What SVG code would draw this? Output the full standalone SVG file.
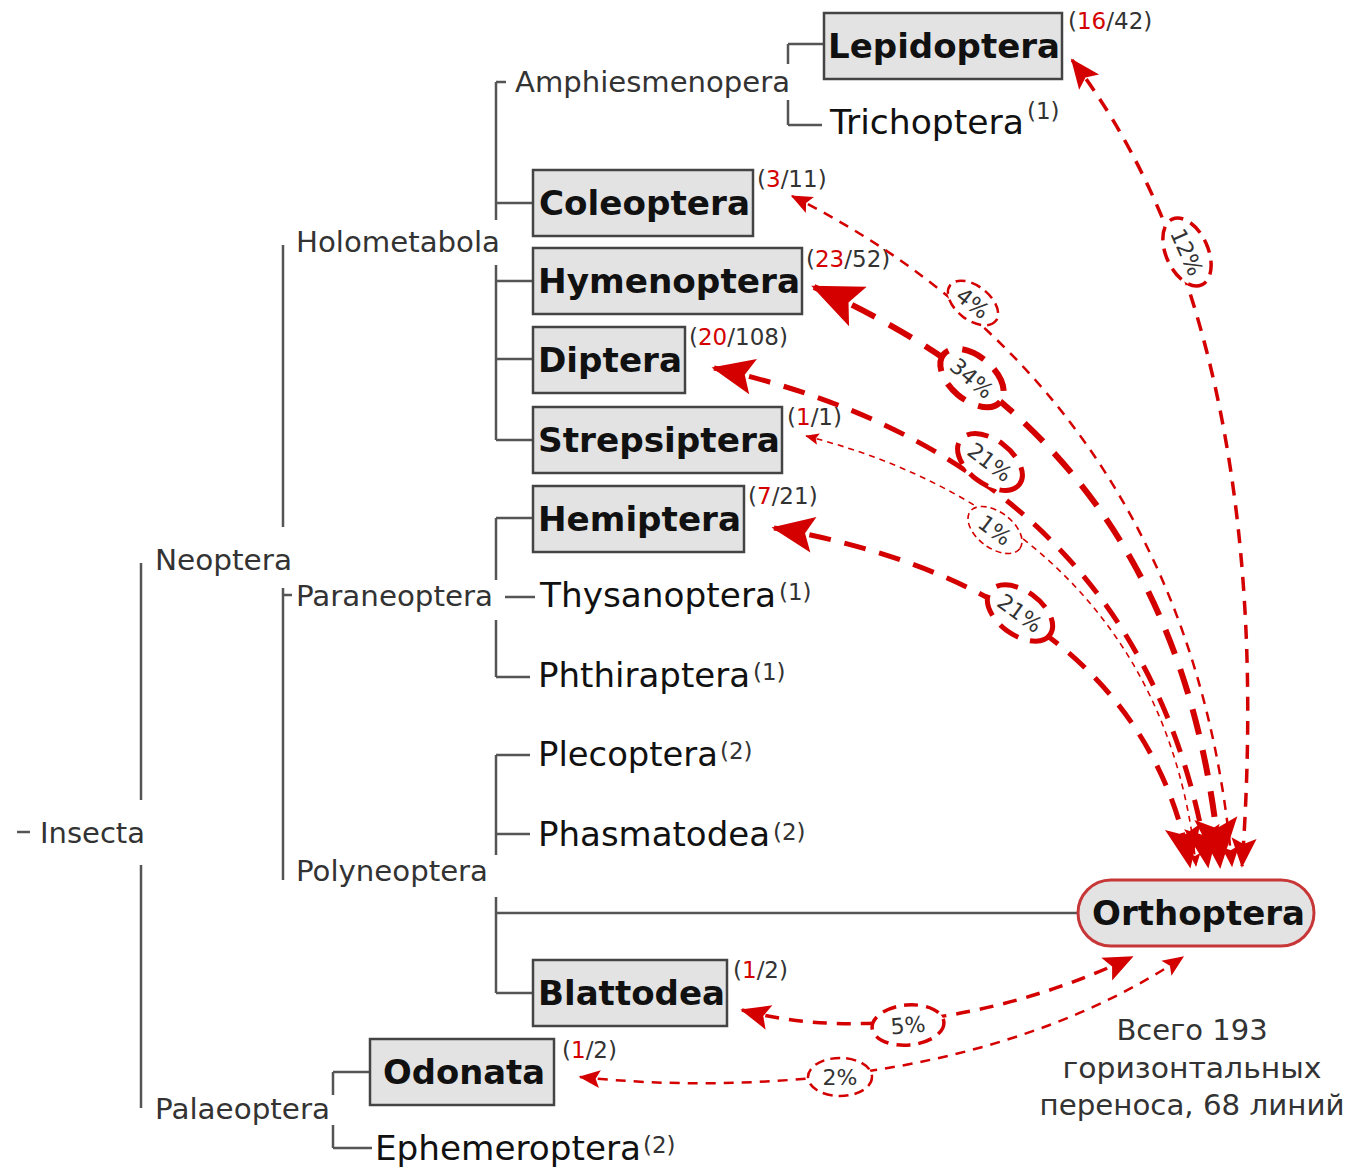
<svg xmlns="http://www.w3.org/2000/svg" width="1350" height="1171" viewBox="0 0 1350 1171">
<defs>
<marker id="ah" viewBox="-10 -5 12 10" refX="0" refY="0" markerWidth="12" markerHeight="10" markerUnits="strokeWidth" orient="auto-start-reverse" overflow="visible">
<path d="M0.5,0 L-8,-3.6 L-6.3,0 L-8,3.6 Z" fill="#d40000"/>
</marker>
<style>
.tree{stroke:#555;stroke-width:2.5;fill:none}
.box{fill:#e3e3e3;stroke:#444;stroke-width:2.5}
.bl{font-family:"DejaVu Sans",sans-serif;font-weight:bold;font-size:34px;fill:#111}
.ol{font-family:"DejaVu Sans",sans-serif;font-size:34px;fill:#111}
.cl{font-family:"DejaVu Sans",sans-serif;font-size:28px;fill:#333}
.sup{font-family:"DejaVu Sans",sans-serif;font-size:23px;fill:#333}
.r{fill:#d40000}
.con{fill:none;stroke:#d40000;marker-start:url(#ah);marker-end:url(#ah)}
.lab{fill:#fff;stroke:#d40000}
.pt{font-family:"DejaVu Sans",sans-serif;font-size:22px;fill:#333;text-anchor:middle}
.ru{font-family:"DejaVu Sans",sans-serif;font-size:29px;fill:#333;text-anchor:middle}
</style>
</defs>
<rect width="1350" height="1171" fill="#fff"/>

<g id="tree-lines">
<path class="tree" d="M17,832 H30"/>
<path class="tree" d="M141,563 V800 M141,865 V1108"/>
<path class="tree" d="M283,245 V527 M283,588 V880 M283,595 H292"/>
<path class="tree" d="M496,82 V220 M496,265 V440 M496,82 H506 M496,203 H533 M496,281 H533 M496,359 H533 M496,440 H533"/>
<path class="tree" d="M788,44 V64 M788,100 V125 M788,44 H824 M788,125 H822"/>
<path class="tree" d="M496,518 V580 M496,620 V677 M496,518 H533 M505,597 H535 M496,677 H530"/>
<path class="tree" d="M496,755 V855 M496,897 V993 M496,755 H530 M496,834 H530 M496,913 H1078 M496,993 H533"/>
<path class="tree" d="M333,1072 V1095 M333,1125 V1148 M333,1072 H370 M333,1148 H372"/>
</g>

<g id="clades">
<text class="cl" x="40" y="843" textLength="105" lengthAdjust="spacingAndGlyphs">Insecta</text>
<text class="cl" x="155" y="570" textLength="137" lengthAdjust="spacingAndGlyphs">Neoptera</text>
<text class="cl" x="155" y="1119" textLength="175" lengthAdjust="spacingAndGlyphs">Palaeoptera</text>
<text class="cl" x="296" y="252" textLength="204" lengthAdjust="spacingAndGlyphs">Holometabola</text>
<text class="cl" x="296" y="606" textLength="197" lengthAdjust="spacingAndGlyphs">Paraneoptera</text>
<text class="cl" x="296" y="881" textLength="192" lengthAdjust="spacingAndGlyphs">Polyneoptera</text>
<text class="cl" x="515" y="92" textLength="275" lengthAdjust="spacingAndGlyphs">Amphiesmenopera</text>
</g>

<g id="lepidoptera">
<rect class="box" x="824" y="13" width="238" height="66"/>
<text class="bl" x="828" y="58" textLength="232" lengthAdjust="spacingAndGlyphs">Lepidoptera</text>
<text class="sup" x="1068" y="29">(<tspan class="r">16</tspan>/42)</text>
</g>
<g id="trichoptera">
<text class="ol" x="830" y="134" textLength="194" lengthAdjust="spacingAndGlyphs">Trichoptera</text>
<text class="sup" x="1027" y="119">(1)</text>
</g>
<g id="coleoptera">
<rect class="box" x="533" y="170" width="220" height="66"/>
<text class="bl" x="539" y="215" textLength="211" lengthAdjust="spacingAndGlyphs">Coleoptera</text>
<text class="sup" x="757" y="187">(<tspan class="r">3</tspan>/11)</text>
</g>
<g id="hymenoptera">
<rect class="box" x="533" y="248" width="269" height="66"/>
<text class="bl" x="538" y="293" textLength="262" lengthAdjust="spacingAndGlyphs">Hymenoptera</text>
<text class="sup" x="806" y="267">(<tspan class="r">23</tspan>/52)</text>
</g>
<g id="diptera">
<rect class="box" x="533" y="327" width="152" height="66"/>
<text class="bl" x="538" y="372" textLength="144" lengthAdjust="spacingAndGlyphs">Diptera</text>
<text class="sup" x="689" y="345">(<tspan class="r">20</tspan>/108)</text>
</g>
<g id="strepsiptera">
<rect class="box" x="533" y="407" width="249" height="66"/>
<text class="bl" x="538" y="452" textLength="242" lengthAdjust="spacingAndGlyphs">Strepsiptera</text>
<text class="sup" x="787" y="425">(<tspan class="r">1</tspan>/1)</text>
</g>
<g id="hemiptera">
<rect class="box" x="533" y="486" width="211" height="66"/>
<text class="bl" x="538" y="531" textLength="203" lengthAdjust="spacingAndGlyphs">Hemiptera</text>
<text class="sup" x="748" y="504">(<tspan class="r">7</tspan>/21)</text>
</g>
<g id="thysanoptera">
<text class="ol" x="540" y="607" textLength="236" lengthAdjust="spacingAndGlyphs">Thysanoptera</text>
<text class="sup" x="779" y="600">(1)</text>
</g>
<g id="phthiraptera">
<text class="ol" x="538" y="687" textLength="212" lengthAdjust="spacingAndGlyphs">Phthiraptera</text>
<text class="sup" x="753" y="680">(1)</text>
</g>
<g id="plecoptera">
<text class="ol" x="538" y="766" textLength="180" lengthAdjust="spacingAndGlyphs">Plecoptera</text>
<text class="sup" x="720" y="759">(2)</text>
</g>
<g id="phasmatodea">
<text class="ol" x="538" y="846" textLength="232" lengthAdjust="spacingAndGlyphs">Phasmatodea</text>
<text class="sup" x="773" y="840">(2)</text>
</g>
<g id="orthoptera">
<rect x="1078" y="880" width="236" height="66" rx="33" ry="33" fill="#e3e3e3" stroke="#c83737" stroke-width="3"/>
<text class="bl" x="1092" y="925" textLength="213" lengthAdjust="spacingAndGlyphs">Orthoptera</text>
</g>
<g id="blattodea">
<rect class="box" x="533" y="960" width="194" height="66"/>
<text class="bl" x="538" y="1005" textLength="187" lengthAdjust="spacingAndGlyphs">Blattodea</text>
<text class="sup" x="733" y="978">(<tspan class="r">1</tspan>/2)</text>
</g>
<g id="odonata">
<rect class="box" x="370" y="1039" width="184" height="66"/>
<text class="bl" x="383" y="1084" textLength="162" lengthAdjust="spacingAndGlyphs">Odonata</text>
<text class="sup" x="562" y="1058">(<tspan class="r">1</tspan>/2)</text>
</g>
<g id="ephemeroptera">
<text class="ol" x="375" y="1160" textLength="266" lengthAdjust="spacingAndGlyphs">Ephemeroptera</text>
<text class="sup" x="643" y="1153">(2)</text>
</g>

<g id="connectors">
<path class="con" stroke-width="3.5" stroke-dasharray="14 10" d="M1072,60 C1180,200 1272,450 1242,866"/>
<path class="con" stroke-width="2.5" stroke-dasharray="10 8" d="M792,196 C1000,300 1200,500 1232,866"/>
<path class="con" stroke-width="6" stroke-dasharray="26 16" d="M814,287 C1000,370 1190,520 1220,866"/>
<path class="con" stroke-width="5" stroke-dasharray="22 14" d="M714,368 C950,420 1160,560 1208,866"/>
<path class="con" stroke-width="1.6" stroke-dasharray="6 5" d="M806,436 C980,480 1170,600 1196,866"/>
<path class="con" stroke-width="5" stroke-dasharray="22 14" d="M774,528 C960,560 1150,650 1190,866"/>
<path class="con" stroke-width="3.5" stroke-dasharray="14 10" d="M742,1010 C850,1040 1000,1020 1132,957"/>
<path class="con" stroke-width="2.5" stroke-dasharray="10 8" d="M580,1077 C750,1095 1000,1080 1183,957"/>
</g>

<g id="labels">
<g transform="translate(1187,252) rotate(66)"><ellipse class="lab" rx="36" ry="21" stroke-width="3.5" stroke-dasharray="14 8"/><text class="pt" y="8">12%</text></g>
<g transform="translate(973,303) rotate(38)"><ellipse class="lab" rx="29" ry="17" stroke-width="2.5" stroke-dasharray="10 6"/><text class="pt" y="8">4%</text></g>
<g transform="translate(972,378) rotate(40)"><ellipse class="lab" rx="37" ry="22" stroke-width="6" stroke-dasharray="24 14"/><text class="pt" y="8">34%</text></g>
<g transform="translate(990,462) rotate(37)"><ellipse class="lab" rx="37" ry="22" stroke-width="5" stroke-dasharray="22 12"/><text class="pt" y="8">21%</text></g>
<g transform="translate(995,530) rotate(37)"><ellipse class="lab" rx="31" ry="18" stroke-width="1.6" stroke-dasharray="6 4"/><text class="pt" y="8">1%</text></g>
<g transform="translate(1020,613) rotate(36)"><ellipse class="lab" rx="37" ry="22" stroke-width="5" stroke-dasharray="22 12"/><text class="pt" y="8">21%</text></g>
<g transform="translate(908,1025) rotate(-5)"><ellipse class="lab" rx="36" ry="20" stroke-width="3.5" stroke-dasharray="14 8"/><text class="pt" y="8">5%</text></g>
<g transform="translate(840,1077)"><ellipse class="lab" rx="32" ry="19" stroke-width="2.5" stroke-dasharray="10 6"/><text class="pt" y="8">2%</text></g>
</g>

<g id="summary">
<text class="ru" x="1192" y="1040">Всего 193</text>
<text class="ru" x="1192" y="1078" textLength="259" lengthAdjust="spacingAndGlyphs">горизонтальных</text>
<text class="ru" x="1192" y="1115" textLength="305" lengthAdjust="spacingAndGlyphs">переноса, 68 линий</text>
</g>
</svg>
